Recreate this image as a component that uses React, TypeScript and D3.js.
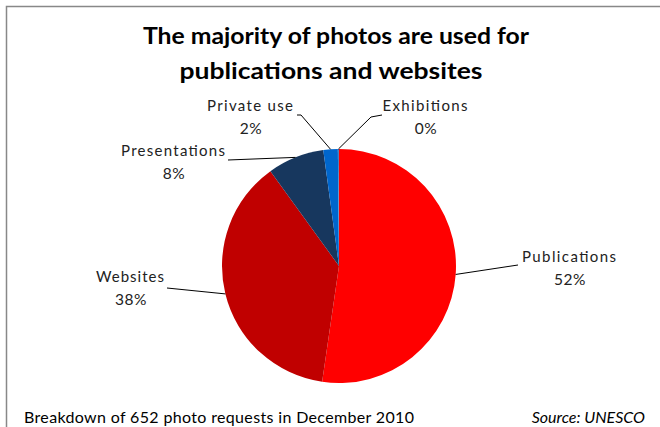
import React from "react";
import * as d3 from "d3";

const categories = ["Publications", "Websites", "Presentations", "Private use", "Exhibitions"];
const requestCounts = [341, 246, 51, 13, 1];
const percentLabels = ["52%", "38%", "8%", "2%", "0%"];
const titleLines = ["The majority of photos are used for", "publications and websites"];
const footnote = "Breakdown of 652 photo requests in December 2010";
const sourceNote = "Source: UNESCO";

const sliceColors = ["#FF0000", "#C00000", "#17375E", "#0066CC", "#4F81BD"];

// label layout (positions of label text centres / leader line ends), kept separate from data
const labelLayout = [
  { x: 569, y: 262, w1: 94, leader: [[518, 265]] },
  { x: 130, y: 282, w1: 68, leader: [[167, 288]] },
  { x: 173, y: 156, w1: 104, leader: [[228, 160]] },
  { x: 250, y: 111, w1: 86, leader: [[297, 115], [301, 115]] },
  { x: 425, y: 111, w1: 85, leader: [[382, 115], [371, 117]] },
];

export default function App() {
  const W = 660, H = 427;
  const cx = 339, cy = 266, r = 117;
  const pie = d3.pie<number>().sort(null).value((d) => d);
  const arcs = pie(requestCounts);
  const arcGen = d3.arc<d3.PieArcDatum<number>>().innerRadius(0).outerRadius(r);
  const font = "Lato, 'Open Sans', sans-serif";

  return (
    <svg width={W} height={H} style={{ position: "absolute", left: 0, top: 0, background: "#fff" }}>
      <rect x={0} y={0} width={W} height={H} fill="#fff" />
      <path d={`M6.5,${H} V6.5 H${W}`} fill="none" stroke="#888" strokeWidth={1.5} />
      {titleLines.map((t, i) => (
        <text key={t} x={i === 0 ? 336 : 331} y={44 + i * 34.5} textAnchor="middle"
          fontFamily={font} fontWeight="bold" fontSize={22} fill="#000"
          textLength={i === 0 ? 386 : 303} lengthAdjust="spacingAndGlyphs">{t}</text>
      ))}
      <g transform={`translate(${cx},${cy})`}>
        {arcs.map((a, i) => (
          <path key={categories[i]} d={arcGen(a) || ""} fill={sliceColors[i]} />
        ))}
      </g>
      {arcs.map((a, i) => {
        const mid = (a.startAngle + a.endAngle) / 2;
        const ex = cx + r * Math.sin(mid);
        const ey = cy - r * Math.cos(mid);
        const L = labelLayout[i];
        const pts = [[ex, ey], ...L.leader.slice().reverse()];
        const line = d3.line()(pts as [number, number][]) || "";
        return (
          <g key={categories[i]}>
            <path d={line} fill="none" stroke="#000" strokeWidth={1} />
            <text x={L.x} y={L.y} textAnchor="middle" fontFamily={font} fontSize={15} fill="#222"
              textLength={L.w1} lengthAdjust="spacing">{categories[i]}</text>
            <text x={L.x + 1} y={L.y + 23} textAnchor="middle" fontFamily={font} fontSize={15.5} fill="#222"
              letterSpacing={0.6}>{percentLabels[i]}</text>
          </g>
        );
      })}
      <text x={24} y={423} fontFamily={font} fontSize={16} fill="#000" textLength={390} lengthAdjust="spacing">{footnote}</text>
      <text x={645} y={423} textAnchor="end" fontFamily={font} fontStyle="italic" fontSize={16} fill="#000">{sourceNote}</text>
    </svg>
  );
}
